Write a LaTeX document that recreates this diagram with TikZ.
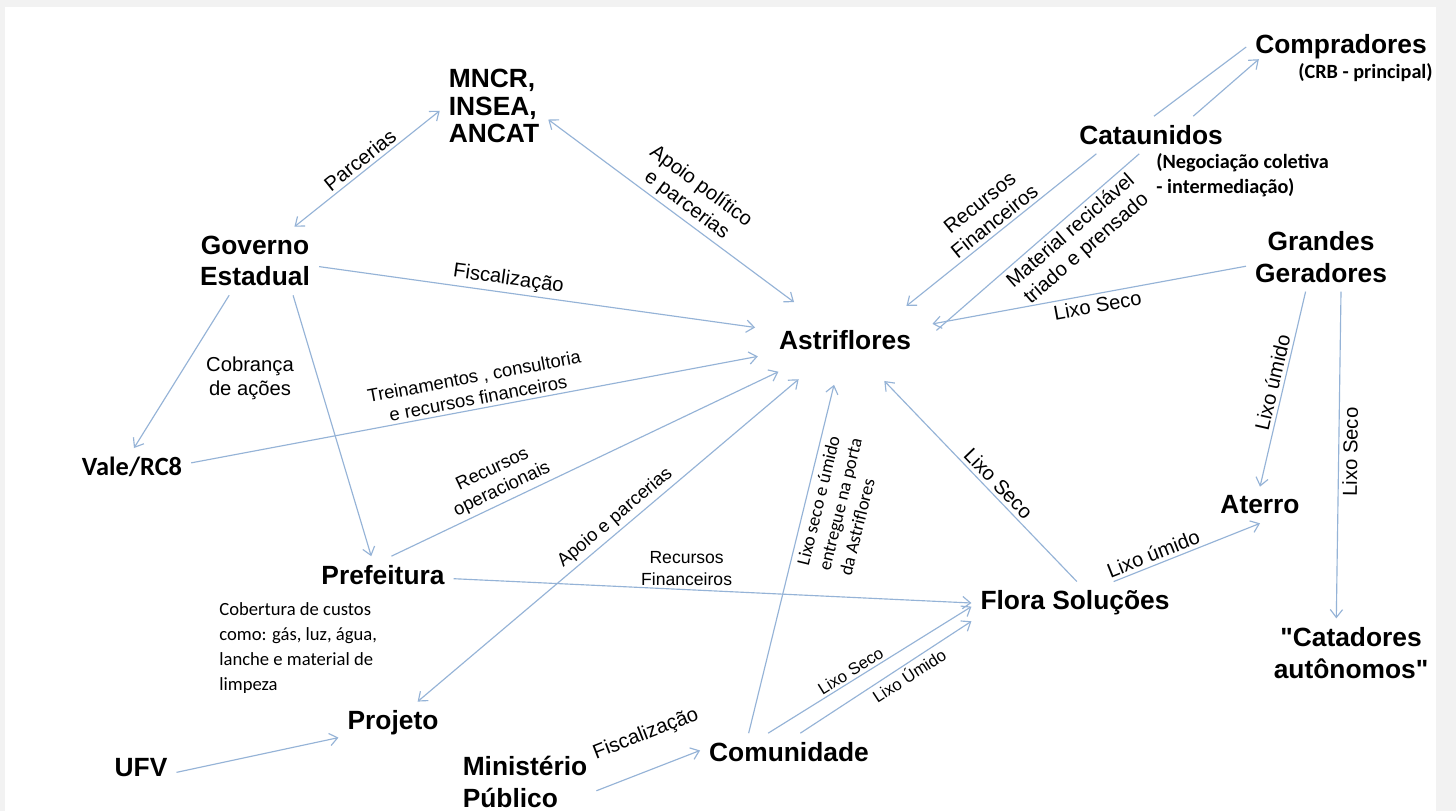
\documentclass[tikz,border=0pt]{standalone}
\usepackage{fontspec}
\setmainfont{Liberation Sans}[Ligatures=TeXOff]
\newfontfamily\calibfont{Carlito}
\usepackage{tikz}
\usetikzlibrary{arrows.meta,shapes.geometric}

\definecolor{linkblue}{RGB}{149,179,215}
\definecolor{pagegray}{RGB}{242,242,242}

\begin{document}
\begin{tikzpicture}[x=0.02cm, y=-0.02cm,
        every node/.style={inner sep=0pt},
        actor/.style={font=\bfseries\fontsize{15}{18}\selectfont, align=center, inner sep=5pt},
        note/.style={font=\calibfont\bfseries\fontsize{11.5}{14}\selectfont, align=left},
        costnote/.style={font=\calibfont\fontsize{10.6}{14.2}\selectfont, align=left},
        flowlabel/.style={font=\fontsize{11.5}{13.5}\selectfont, align=center, inner sep=2pt},
        smalllabel/.style={flowlabel, font=\fontsize{10.5}{12.5}\selectfont},
        tinylabel/.style={flowlabel, font=\fontsize{10}{12.5}\selectfont},
        minilabel/.style={flowlabel, font=\fontsize{9.5}{11.5}\selectfont, inner sep=1.5pt},
        porta/.style={font=\calibfont\fontsize{10.5}{12.5}\selectfont, align=left, inner sep=3pt},
        link/.style={draw=linkblue, line width=0.65pt},
        flow/.style={link, -{Straight Barb[length=4.5pt,width=7pt]}},
        flowboth/.style={link, {Straight Barb[length=4.5pt,width=7pt]}-{Straight Barb[length=4.5pt,width=7pt]}},
    ]
    % page
    \fill[pagegray] (0,0) rectangle (1456,811);
    \fill[white] (5,7) rectangle (1436,811);
    \useasboundingbox (0,0) rectangle (1456,811);

    % actors
    \node[actor, align=left, font=\bfseries\fontsize{15}{15.5}\selectfont] (mncr) at (494,106) {MNCR,\\INSEA,\\ANCAT};
    \node[actor] (gov) at (255,261) {Governo\\Estadual};
    \node[actor, ellipse, inner sep=0pt, minimum height=51pt] (astri) at (845,340) {Astriflores};
    \node[actor] (comp) at (1341,47) {Compradores};
    \node[note, anchor=west] (crb) at (1298,73) {(CRB - principal)};
    \node[actor] (catau) at (1151,135) {Cataunidos};
    \node[note, anchor=west] (negoc) at (1156,175) {(Negociação coletiva\\- intermediação)};
    \node[actor] (grandes) at (1321,257) {Grandes\\Geradores};
    \node[actor, font=\calibfont\bfseries\fontsize{15}{18}\selectfont] (vale) at (132,467) {Vale/RC8};
    \node[actor] (pref) at (383,575) {Prefeitura};
    \node[costnote, anchor=west] (cobert) at (219,648) {Cobertura de custos\\como: gás, luz, água,\\lanche e material de\\limpeza};
    \node[actor] (proj) at (393,723) {Projeto};
    \node[actor] (ufv) at (141,768) {UFV};
    \node[actor, align=left] (minist) at (525,782) {Ministério\\Público};
    \node[actor] (comun) at (789,752) {Comunidade};
    \node[actor] (flora) at (1075,603) {Flora Soluções};
    \node[actor] (aterro) at (1260,505) {Aterro};
    \node[actor] (catad) at (1351,653) {"Catadores\\autônomos"};

    % left side
    \draw[flowboth] (gov.41) -- node[flowlabel, sloped, above, pos=.5] (lparc) {Parcerias} (mncr.185);
    \draw[flowboth] (mncr.-14) -- node[flowlabel, sloped, above, pos=.53] (lapoio) {Apoio político\\e parcerias} (astri);
    \draw[flow] (gov.-5) -- node[flowlabel, sloped, above, pos=.43] (lfisc) {Fiscalização} (astri);
    \draw[flow] (gov.233) -- (vale.84);
    \node[flowlabel] (lcobr) at (250,378) {Cobrança\\de ações};
    \draw[flow] (gov.-42) -- (pref.122);
    \draw[flow] (vale.4) -- node[smalllabel, sloped, above, pos=.51] (ltrein) {Treinamentos , consultoria\\e recursos financeiros} (astri);
    \draw[flow] (pref.66) -- node[smalllabel, sloped, above, pos=.3] (lrecop) {Recursos\\operacionais} (astri);
    \draw[flowboth] (proj.41) -- node[smalllabel, sloped, above, pos=.54] (lapoio2) {Apoio e parcerias} (astri);
    \draw[flow] (pref.-3) -- node[tinylabel, above, pos=.45] (lrecfin) {Recursos\\Financeiros} (flora.180);
    \draw[flow] (ufv.-7) -- (proj.195);

    % bottom
    \draw[flow] (minist.-7) -- node[flowlabel, sloped, above=12pt, pos=.6] (lfisc2) {Fiscalização} (comun.179);
    \draw[flow] (comun.155) -- node[porta, sloped, below, pos=.68] (lporta) {Lixo seco e úmido\\entregue na porta\\da Astriflores} (astri);
    \draw[flow] (comun.138) -- node[minilabel, sloped, above, pos=.43] (lseco1) {Lixo Seco} (flora.182);
    \draw[flow] (comun.59) -- node[minilabel, sloped, below, pos=.6] (lumido1) {Lixo Úmido} (flora.190);

    % right side
    \draw[flow] (flora.85) -- node[flowlabel, sloped, above, pos=.45] (lseco2) {Lixo Seco} (astri);
    \draw[flow] (flora.29) -- node[flowlabel, sloped, above, pos=.3] (lumido2) {Lixo úmido} (aterro.south);
    \draw[flow] (grandes.187) -- node[flowlabel, sloped, below, pos=.48] (lseco3) {Lixo Seco} (astri);
    \draw[flow] (grandes.246) -- node[flowlabel, sloped, above, pos=.48] (lumido3) {Lixo úmido} (aterro.north);
    \draw[flow] (grandes.-60) -- node[flowlabel, sloped, below, pos=.49] (lseco4) {Lixo Seco} (catad.113);
    \draw[flow] (catau.199) -- node[flowlabel, sloped, above, pos=.5] (lrecfin2) {Recursos\\Financeiros} (astri.29);
    \draw[link] (astri.6) -- node[flowlabel, sloped, below, pos=.62] (lmat) {Material reciclável\\triado e prensado} (catau.238);
    \draw[link] (catau.81) -- (comp.180);
    \draw[flow, shorten >=-8pt] (catau.24) -- (comp.193);
\end{tikzpicture}
\end{document}
